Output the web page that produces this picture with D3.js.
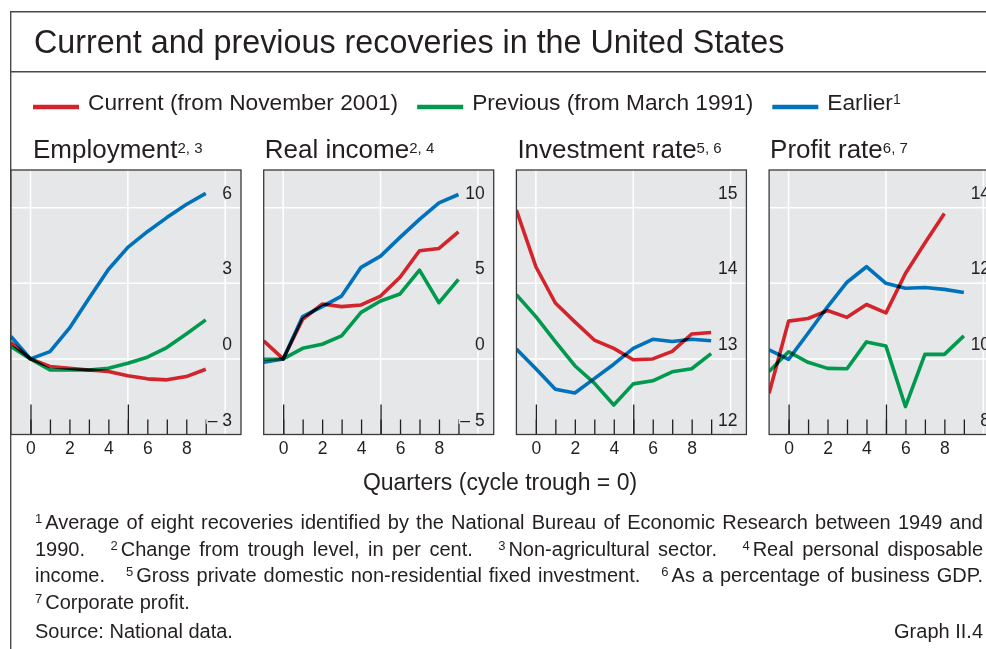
<!DOCTYPE html>
<html>
<head>
<meta charset="utf-8">
<script src="https://cdn.jsdelivr.net/npm/d3@7"></script>
<style>
  body { margin: 0; background: #fff; }
  svg { display: block; }
  text { font-family: "Liberation Sans", Arial, sans-serif; fill: #231f20; }
</style>
</head>
<body>
<svg id="chart"></svg>
<script>
// Quarters around the cycle trough (0 = trough)
const quarters = [-1, 0, 1, 2, 3, 4, 5, 6, 7, 8, 9];

// Employment, change from trough in per cent
const employmentCurrent  = [0.65, 0, -0.30, -0.37, -0.44, -0.50, -0.67, -0.79, -0.83, -0.70, -0.41];
const employmentPrevious = [0.49, 0, -0.44, -0.44, -0.44, -0.37, -0.17, 0.07, 0.45, 0.99, 1.55];
const employmentEarlier  = [0.89, 0, 0.29, 1.22, 2.40, 3.55, 4.43, 5.05, 5.61, 6.13, 6.57];

// Real income, change from trough in per cent
const incomeCurrent  = [1.19, 0, 2.62, 3.63, 3.46, 3.57, 4.16, 5.40, 7.16, 7.31, 8.41];
const incomePrevious = [-0.02, 0, 0.70, 0.97, 1.52, 3.08, 3.83, 4.30, 5.88, 3.72, 5.26];
const incomeEarlier  = [-0.22, 0, 2.80, 3.46, 4.16, 6.06, 6.80, 8.04, 9.23, 10.33, 10.88];

// Investment rate, % of business GDP
const investmentCurrent  = [14.97, 14.22, 13.74, 13.49, 13.25, 13.14, 12.99, 13.00, 13.10, 13.33, 13.35];
const investmentPrevious = [13.85, 13.56, 13.23, 12.91, 12.68, 12.39, 12.67, 12.71, 12.83, 12.87, 13.07];
const investmentEarlier  = [13.13, 12.87, 12.60, 12.55, 12.74, 12.93, 13.14, 13.26, 13.23, 13.26, 13.24];

// Profit rate, % of business GDP
const profitCurrent  = [9.09, 11.00, 11.07, 11.28, 11.10, 11.44, 11.22, 12.26, 13.07, 13.85, null];
const profitPrevious = [9.67, 10.19, 9.91, 9.75, 9.74, 10.45, 10.34, 8.74, 10.12, 10.12, 10.61];
const profitEarlier  = [10.24, 9.99, 10.68, 11.38, 12.03, 12.44, 12.00, 11.87, 11.89, 11.84, 11.76];

const seriesNames = ["Current (from November 2001)", "Previous (from March 1991)", "Earlier"];
const seriesNotes = ["", "", "1"];
const seriesColors = ["#d3242b", "#00994d", "#0071bb"];

const panelTitles = ["Employment", "Real income", "Investment rate", "Profit rate"];
const panelNotes = ["2, 3", "2, 4", "5, 6", "6, 7"];
const panelTicks = [[-3, 0, 3, 6], [-5, 0, 5, 10], [12, 13, 14, 15], [8, 10, 12, 14]];
const panelTickLabels = [["\u2013 3", "0", "3", "6"], ["\u2013 5", "0", "5", "10"], ["12", "13", "14", "15"], ["8", "10", "12", "14"]];
const panelDomains = [[-3, 7.5], [-5, 12.5], [12, 15.5], [8, 15]];
const xTickLabels = [0, 2, 4, 6, 8];

const title = "Current and previous recoveries in the United States";
const xTitle = "Quarters (cycle trough = 0)";
const footnoteLines = [
  [["1", "Average of eight recoveries identified by the National Bureau of Economic Research between 1949 and"]],
  [["", "1990."], ["2", "Change from trough level, in per cent."], ["3", "Non-agricultural sector."], ["4", "Real personal disposable"]],
  [["", "income."], ["5", "Gross private domestic non-residential fixed investment."], ["6", "As a percentage of business GDP."]],
  [["7", "Corporate profit."]]
];
const sourceText = "Source: National data.";
const graphLabel = "Graph II.4";

const panels = [
  [employmentCurrent, employmentPrevious, employmentEarlier],
  [incomeCurrent, incomePrevious, incomeEarlier],
  [investmentCurrent, investmentPrevious, investmentEarlier],
  [profitCurrent, profitPrevious, profitEarlier]
];

// Layout
const W = 986, H = 649;
const ink = "#231f20";
const panelBg = "#e6e7e9";
const panelLeft = 11, panelTop = 170, panelW = 230, panelH = 264.5, panelStep = 252.7;

const svg = d3.select("#chart").attr("width", W).attr("height", H);

// Outer frame
svg.append("path")
    .attr("d", `M${W},11.7H10.7V${H}M10.7,71.7H${W}`)
    .attr("fill", "none")
    .attr("stroke", "#4a4a4a")
    .attr("stroke-width", 1.4);

svg.append("text")
    .attr("x", 34)
    .attr("y", 53.3)
    .style("font-size", "32.3px")
    .text(title);

// Legend, laid out left to right
let lx = 33;
seriesNames.forEach((name, i) => {
  svg.append("line")
      .attr("x1", lx).attr("x2", lx + 46)
      .attr("y1", 107).attr("y2", 107)
      .attr("stroke", seriesColors[i])
      .attr("stroke-width", 4.3);
  const t = svg.append("text")
      .attr("x", lx + 55)
      .attr("y", 110)
      .style("font-size", "22.7px");
  t.append("tspan").text(name);
  if (seriesNotes[i]) {
    t.append("tspan").attr("dy", -6).style("font-size", "14px").text(seriesNotes[i]);
  }
  lx += 55 + t.node().getComputedTextLength() + 19;
});

const x = d3.scaleLinear().domain([-1, 10.81]).range([0, panelW]);
const line = d3.line()
    .defined(d => d[1] != null)
    .x(d => x(d[0]))
    .y(d => d[2](d[1]));

panels.forEach((series, i) => {
  const left = panelLeft + i * panelStep;
  const g = svg.append("g").attr("transform", `translate(${left},${panelTop})`);
  const y = d3.scaleLinear().domain(panelDomains[i]).range([panelH, 0]);

  g.append("rect")
      .attr("width", panelW)
      .attr("height", panelH)
      .attr("fill", panelBg);

  // White grid
  g.selectAll(".vgrid").data([0, 5, 10]).join("line")
      .attr("x1", d => x(d)).attr("x2", d => x(d))
      .attr("y1", 0).attr("y2", panelH)
      .attr("stroke", "#fff").attr("stroke-width", 1.5);
  g.selectAll(".hgrid").data(panelTicks[i].filter(v => v > panelDomains[i][0])).join("line")
      .attr("x1", 0).attr("x2", panelW)
      .attr("y1", d => y(d)).attr("y2", d => y(d))
      .attr("stroke", "#fff").attr("stroke-width", 1.5);

  // Quarter ticks rising from the bottom edge
  const minor = g.append("g")
      .attr("transform", `translate(0,${panelH})`)
      .call(d3.axisBottom(x).tickValues(d3.range(0, 10)).tickSize(-15).tickFormat(""));
  const major = g.append("g")
      .attr("transform", `translate(0,${panelH})`)
      .call(d3.axisBottom(x).tickValues([0, 5]).tickSize(-30).tickFormat(""));
  [minor, major].forEach(a => {
    a.select(".domain").remove();
    a.selectAll("line").attr("stroke", ink).attr("stroke-width", 1.3);
  });

  const labels = g.append("g")
      .attr("transform", `translate(0,${panelH})`)
      .call(d3.axisBottom(x).tickValues(xTickLabels).tickSize(0).tickPadding(6.6));
  labels.select(".domain").remove();
  labels.selectAll("text").style("font-size", "17.5px");

  // Series lines, overlaps darken like the printed original
  g.append("clipPath").attr("id", `clip${i}`)
    .append("rect").attr("width", panelW).attr("height", panelH);
  const lines = g.append("g")
      .attr("clip-path", `url(#clip${i})`)
      .style("isolation", "isolate");
  series.forEach((vals, j) => {
    lines.append("path")
        .datum(quarters.map((q, k) => [q, vals[k], y]))
        .attr("d", line)
        .attr("fill", "none")
        .attr("stroke", seriesColors[j])
        .attr("stroke-width", 3.6)
        .attr("stroke-linejoin", "round")
        .style("mix-blend-mode", "multiply");
  });

  // Value labels inside the right edge, knocked out of what lies beneath
  g.selectAll(".ylab").data(panelTicks[i]).join("text")
      .attr("x", panelW - 9)
      .attr("y", d => y(d) - 9)
      .attr("text-anchor", "end")
      .attr("stroke", panelBg)
      .attr("stroke-width", 3)
      .attr("paint-order", "stroke")
      .style("font-size", "17.5px")
      .text((d, k) => panelTickLabels[i][k]);

  g.append("rect")
      .attr("width", panelW)
      .attr("height", panelH)
      .attr("fill", "none")
      .attr("stroke", "#3a3a3a")
      .attr("stroke-width", 1.3);

  const t = svg.append("text")
      .attr("x", i === 0 ? 33 : left + 1)
      .attr("y", 158.3)
      .style("font-size", "26px");
  t.append("tspan").text(panelTitles[i]);
  t.append("tspan").attr("dy", -5).style("font-size", "15px").text(panelNotes[i]);
});

svg.append("text")
    .attr("x", 500)
    .attr("y", 490)
    .attr("text-anchor", "middle")
    .style("font-size", "23px")
    .text(xTitle);

// Footnotes, justified like the original (two passes on the real width)
function justify(text, x0, x1) {
  const spaces = (text.text().match(/[ \u00a0]/g) || []).length;
  let ws = 0;
  for (let pass = 0; pass < 3; pass++) {
    text.style("word-spacing", `${ws}px`);
    const box = text.node().getBBox();
    ws += (x1 - (box.x + box.width)) / spaces;
  }
  text.style("word-spacing", `${ws}px`);
}

const footY = [529, 555.5, 582, 608.5];
footnoteLines.forEach((parts, i) => {
  const t = svg.append("text")
      .attr("x", 35)
      .attr("y", footY[i])
      .style("font-size", "20px");
  parts.forEach(([sup, txt], k) => {
    if (k > 0) t.append("tspan").text("\u00a0\u00a0 ");
    if (sup) {
      t.append("tspan").attr("dy", -6).style("font-size", "13px").text(sup);
      t.append("tspan").attr("dy", 6).attr("dx", 3).text(txt);
    } else {
      t.append("tspan").text(txt);
    }
  });
  if (i < footnoteLines.length - 1) justify(t, 35, 983);
});

svg.append("text")
    .attr("x", 35)
    .attr("y", 638)
    .style("font-size", "20px")
    .text(sourceText);
svg.append("text")
    .attr("x", 983)
    .attr("y", 638)
    .attr("text-anchor", "end")
    .style("font-size", "20px")
    .text(graphLabel);
</script>
</body>
</html>
